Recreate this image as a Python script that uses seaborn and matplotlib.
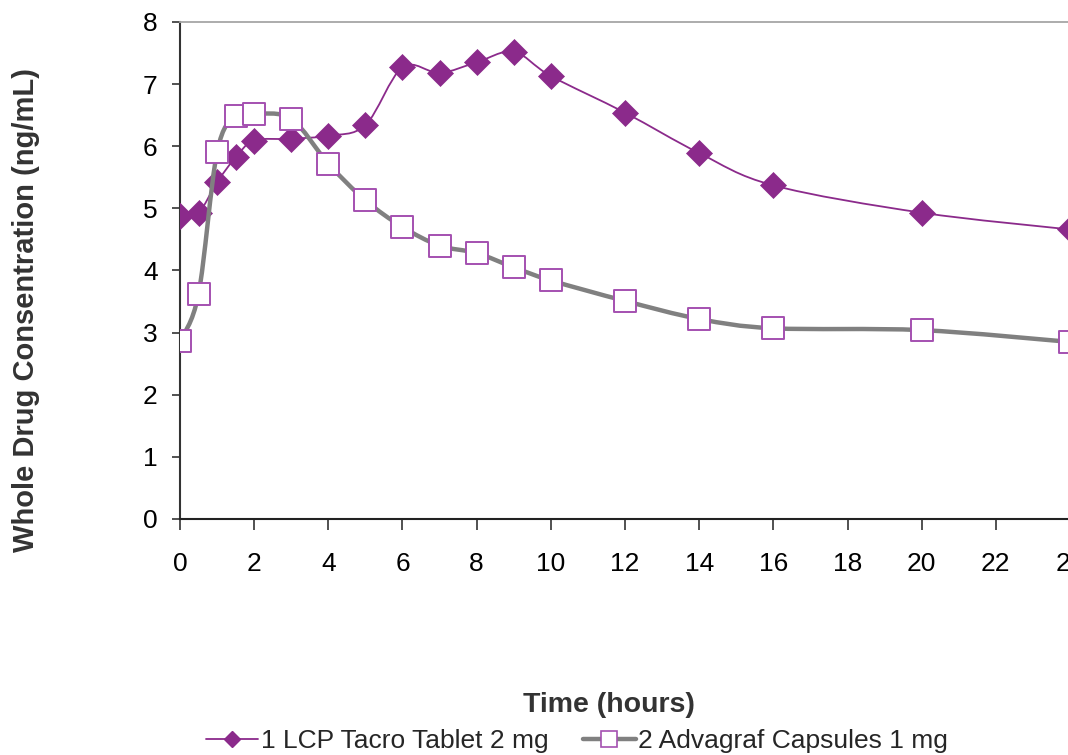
import numpy as np
import pandas as pd
import seaborn as sns
import matplotlib
matplotlib.use("Agg")
from matplotlib import pyplot as plt
from matplotlib.path import Path
from matplotlib.patches import PathPatch
from matplotlib.lines import Line2D

# sampling times (hours)
hours = [0, 0.5, 1, 1.5, 2, 3, 4, 5, 6, 7, 8, 9, 10, 12, 14, 16, 20, 24]
# whole drug concentration (ng/mL)
lcp_tacro = [4.87, 4.93, 5.42, 5.82, 6.09, 6.12, 6.17, 6.34, 7.27, 7.18,
             7.35, 7.52, 7.13, 6.54, 5.89, 5.37, 4.93, 4.66]
advagraf = [2.86, 3.62, 5.90, 6.49, 6.52, 6.44, 5.72, 5.13, 4.70, 4.40,
            4.28, 4.05, 3.84, 3.51, 3.22, 3.07, 3.04, 2.85]
series_names = ["1 LCP Tacro Tablet 2 mg", "2 Advagraf Capsules 1 mg"]
y_ticks = [0, 1, 2, 3, 4, 5, 6, 7, 8]
x_ticks = list(range(0, 26, 2))

PURPLE = "#8b2a8b"
SQ_EDGE = "#a450b0"
GRAY = "#808080"


def smooth_path(x, y):
    """Excel style smoothed line: catmull-rom segments as cubic beziers"""
    pts = np.column_stack([x, y]).astype(float)
    ext = np.vstack([pts[0], pts, pts[-1]])
    verts = [pts[0]]
    codes = [Path.MOVETO]
    for i in range(1, len(ext) - 2):
        p0, p1, p2, p3 = ext[i - 1], ext[i], ext[i + 1], ext[i + 2]
        verts += [p1 + (p2 - p0) / 6, p2 - (p3 - p1) / 6, p2]
        codes += [Path.CURVE4] * 3
    return Path(verts, codes)


df = pd.DataFrame({"hours": hours, "lcp": lcp_tacro, "adv": advagraf})

sns.set_theme(style="white")
plt.rcParams["font.family"] = ["Liberation Sans", "DejaVu Sans"]

fig = plt.figure(figsize=(10.68, 7.55), dpi=100)
ax = fig.add_axes([0.1685, 0.3126, 0.8334, 0.6583])

# series 1: thin purple line with diamonds
ax.add_patch(PathPatch(smooth_path(df["hours"], df["lcp"]), fill=False,
                       edgecolor=PURPLE, lw=1.3, zorder=2))
sns.scatterplot(data=df, x="hours", y="lcp", marker="D", s=175, color=PURPLE,
                edgecolor=PURPLE, linewidth=0.5, ax=ax, zorder=3, legend=False)

# series 2: thick gray line with open squares
ax.add_patch(PathPatch(smooth_path(df["hours"], df["adv"]), fill=False,
                       edgecolor=GRAY, lw=3.2, zorder=4))
sns.scatterplot(data=df, x="hours", y="adv", marker="s", s=260, color="white",
                edgecolor=SQ_EDGE, linewidth=1.4, ax=ax, zorder=5, legend=False)

ax.set_xlim(0, 24)
ax.set_ylim(0, 8)
ax.set_xticks(x_ticks)
ax.set_yticks(y_ticks)
ax.tick_params(axis="y", direction="out", length=6, width=1.2, color="#333333",
               labelsize=19, pad=10, left=True)
ax.tick_params(axis="x", direction="out", length=8, width=1.2, color="#333333",
               labelsize=19, pad=16, bottom=True)
for lab in ax.get_xticklabels() + ax.get_yticklabels():
    lab.set_color("black")

ax.spines["left"].set_color("#333333")
ax.spines["left"].set_linewidth(1.5)
ax.spines["bottom"].set_color("#222222")
ax.spines["bottom"].set_linewidth(1.5)
ax.spines["top"].set_color("#a6a6a6")
ax.spines["top"].set_linewidth(1.3)
ax.spines["right"].set_color("#a6a6a6")

ax.set_xlabel("")
ax.set_ylabel("Whole Drug Consentration (ng/mL)", fontsize=21, fontweight="bold",
              color="#333333")
ax.yaxis.set_label_coords(-0.157, 0.42)

fig.text(609 / 1068, 1 - 705 / 755, "Time (hours)", ha="center", va="center",
         fontsize=20.5, fontweight="bold", color="#333333")

handles = [
    Line2D([], [], color=PURPLE, lw=1.3, marker="D", ms=8, mfc=PURPLE, mec=PURPLE),
    Line2D([], [], color=GRAY, lw=3.2, marker="s", ms=12, mfc="white", mec=SQ_EDGE, mew=1.2),
]
fig.legend(handles, series_names, loc="center", bbox_to_anchor=(577 / 1068, 1 - 741 / 755),
           ncol=2, frameon=False, fontsize=19, handlelength=2.0, handletextpad=0.1,
           columnspacing=1.3, borderpad=0)

fig.savefig("out.png", dpi=100)
